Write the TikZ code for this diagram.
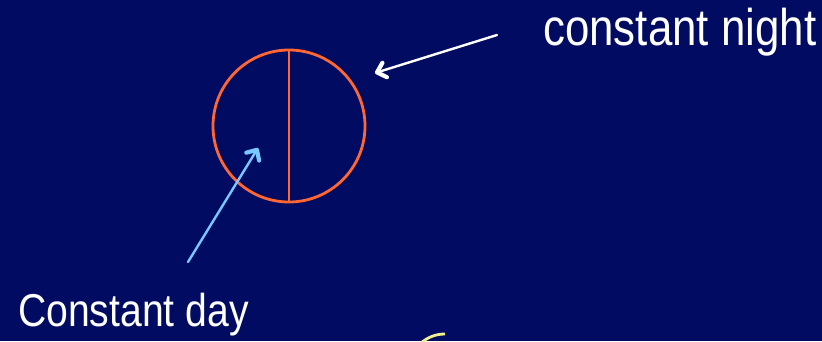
\documentclass[tikz,border=0pt]{standalone}
\usepackage{fontspec}
\setmainfont{Liberation Sans}[FakeStretch=0.85]
\usetikzlibrary{arrows.meta,positioning}
\definecolor{slidebg}{RGB}{1,11,98}
\definecolor{sunorange}{RGB}{255,102,51}
\definecolor{daycyan}{RGB}{120,200,255}
\definecolor{paleyel}{RGB}{240,240,140}
\tikzset{
  lbl/.style={text=white, inner sep=0pt, anchor=base west},
  ptr/.style={-{Straight Barb[length=8bp, width=15bp, line width=4.2bp, line cap=round, line join=round]},
              line width=2.4bp, line cap=round},
  rim/.style={draw=sunorange, line width=2.8bp},
}
\begin{document}
\begin{tikzpicture}[x=1bp, y=-1bp]
    \fill[slidebg] (0,0) rectangle (822,341);
    \useasboundingbox (0,0) rectangle (822,341);
    % the globe
    \node[rim, circle, minimum size=152bp, inner sep=0pt] (globe) at (289,126) {};
    \draw[sunorange, line width=2.8bp] (globe.north) -- (globe.south);
    % labels
    \node[lbl, font=\fontsize{51.8}{60}\selectfont] (night) at (543,45) {constant night};
    \node[lbl, font=\fontsize{46.2}{54}\selectfont] (day) at (18,326) {Constant day};
    \coordinate (nightstart) at (497,35);
    \coordinate (nightend) at (375,73);
    \coordinate (daystart) at (188,262);
    \coordinate (dayend) at (258,148);
    \draw[ptr, white] (nightstart) -- (nightend);
    \draw[ptr, daycyan] (daystart) -- (dayend);
    % edge of a shape below
    \draw[paleyel, line width=2.8bp] (421,343) .. controls (428,337) and (436,334) .. (445,334);
\end{tikzpicture}
\end{document}
